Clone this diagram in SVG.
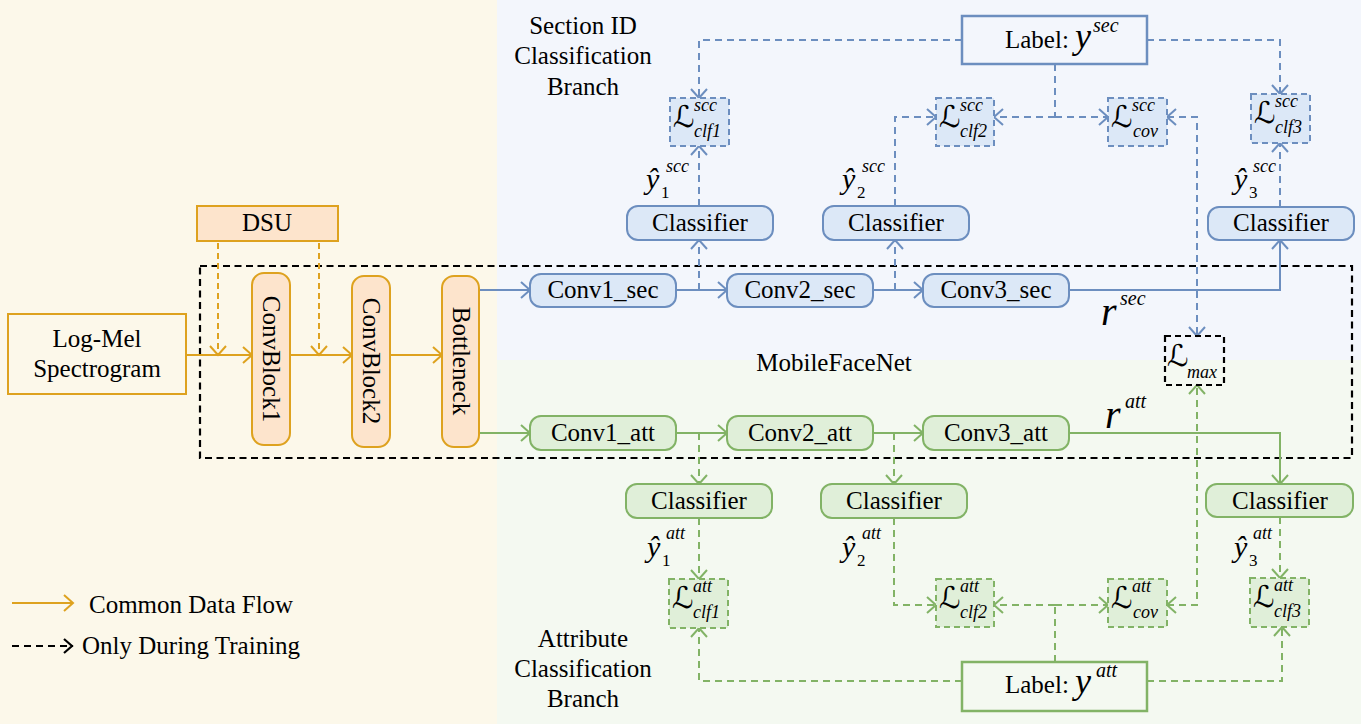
<svg xmlns="http://www.w3.org/2000/svg" width="1361" height="724" viewBox="0 0 1361 724">
<defs>
<style>
.t{font-family:"Liberation Serif","DejaVu Serif",serif;font-size:25px;fill:#000}
.c{text-anchor:middle}
.m{font-family:"Liberation Serif","DejaVu Serif",serif;font-style:italic;fill:#000}
.L{font-family:"DejaVu Serif","DejaVu Sans",serif;font-size:30px;fill:#000}
.s{font-size:18px}
.d{font-size:17px}
.ob{fill:#fde4cc;stroke:#dea21f;stroke-width:2}
.bb{fill:#dce8f7;stroke:#6c8ebf;stroke-width:2}
.gb{fill:#e0efd9;stroke:#82b366;stroke-width:2}
.bl{fill:#dce8f7;stroke:#6c8ebf;stroke-width:2;stroke-dasharray:6 4}
.gl{fill:#e0efd9;stroke:#82b366;stroke-width:2;stroke-dasharray:6 4}
.lab-b{fill:none;stroke:#6c8ebf;stroke-width:2.5}
.lab-g{fill:none;stroke:#82b366;stroke-width:2.5}
.ol{fill:none;stroke:#dea21f;stroke-width:2}
.od{fill:none;stroke:#dea21f;stroke-width:2;stroke-dasharray:6 4}
.bs{fill:none;stroke:#6c8ebf;stroke-width:2}
.bd{fill:none;stroke:#6c8ebf;stroke-width:2;stroke-dasharray:7 5}
.gs{fill:none;stroke:#82b366;stroke-width:2}
.gd{fill:none;stroke:#82b366;stroke-width:2;stroke-dasharray:7 5}
.kd{fill:none;stroke:#000;stroke-width:2.2;stroke-dasharray:7 4.5}
</style>
<marker id="ao" markerUnits="userSpaceOnUse" markerWidth="12" markerHeight="18" refX="10" refY="9" orient="auto-start-reverse"><path d="M1,1 L10,9 L1,17" fill="none" stroke="#dea21f" stroke-width="2"/></marker>
<marker id="ab" markerUnits="userSpaceOnUse" markerWidth="12" markerHeight="18" refX="10" refY="9" orient="auto-start-reverse"><path d="M1,1 L10,9 L1,17" fill="none" stroke="#6c8ebf" stroke-width="2"/></marker>
<marker id="ag" markerUnits="userSpaceOnUse" markerWidth="12" markerHeight="18" refX="10" refY="9" orient="auto-start-reverse"><path d="M1,1 L10,9 L1,17" fill="none" stroke="#82b366" stroke-width="2"/></marker>
<marker id="ak" markerUnits="userSpaceOnUse" markerWidth="12" markerHeight="18" refX="10" refY="9" orient="auto-start-reverse"><path d="M1,2 L9,9 L1,16" fill="none" stroke="#000" stroke-width="2.2"/></marker>
</defs>

<g id="background">
<rect x="0" y="0" width="1361" height="724" fill="#fcf8ea"/>
<rect x="497" y="0" width="864" height="360" fill="#f3f6fc"/>
<rect x="497" y="360" width="864" height="364" fill="#f4f9f1"/>
</g>

<g id="region-labels">
<text class="t c" x="583" y="34">Section ID</text>
<text class="t c" x="583" y="64">Classification</text>
<text class="t c" x="583" y="95">Branch</text>
<text class="t c" x="583" y="647">Attribute</text>
<text class="t c" x="583" y="677">Classification</text>
<text class="t c" x="583" y="707">Branch</text>
</g>

<g id="mobilefacenet">
<rect class="kd" x="200" y="266" width="1152" height="192"/>
<text class="t c" x="834" y="371">MobileFaceNet</text>
</g>

<g id="connectors">
<line class="ol" x1="186" y1="355" x2="252" y2="355" marker-end="url(#ao)"/>
<line class="ol" x1="290" y1="355" x2="352" y2="355" marker-end="url(#ao)"/>
<line class="ol" x1="390" y1="355" x2="442" y2="355" marker-end="url(#ao)"/>
<line class="od" x1="218" y1="243" x2="218" y2="355" marker-end="url(#ao)"/>
<line class="od" x1="319" y1="243" x2="319" y2="355" marker-end="url(#ao)"/>
<line class="bs" x1="479" y1="290" x2="530" y2="290" marker-end="url(#ab)"/>
<line class="bs" x1="676" y1="290" x2="727" y2="290" marker-end="url(#ab)"/>
<line class="bs" x1="873" y1="290" x2="923" y2="290" marker-end="url(#ab)"/>
<path class="bs" d="M1069,290 H1280 V240" marker-end="url(#ab)"/>
<line class="bd" x1="699" y1="290" x2="699" y2="240" marker-end="url(#ab)"/>
<line class="bd" x1="895" y1="290" x2="895" y2="240" marker-end="url(#ab)"/>
<line class="bd" x1="699" y1="206" x2="699" y2="146" marker-end="url(#ab)"/>
<path class="bd" d="M895,206 V117 H936" marker-end="url(#ab)"/>
<line class="bd" x1="1280" y1="207" x2="1280" y2="143" marker-end="url(#ab)"/>
<path class="bd" d="M962,40 H699 V98" marker-end="url(#ab)"/>
<path class="bd" d="M1147,40 H1280 V94" marker-end="url(#ab)"/>
<line class="bd" x1="1055" y1="64" x2="1055" y2="117"/>
<line class="bd" x1="1055" y1="117" x2="994" y2="117" marker-end="url(#ab)"/>
<line class="bd" x1="1055" y1="117" x2="1108" y2="117" marker-end="url(#ab)"/>
<path class="bd" d="M1167,117 H1197 V336" marker-start="url(#ab)" marker-end="url(#ab)"/>
<line class="gs" x1="479" y1="433" x2="530" y2="433" marker-end="url(#ag)"/>
<line class="gs" x1="676" y1="433" x2="727" y2="433" marker-end="url(#ag)"/>
<line class="gs" x1="873" y1="433" x2="923" y2="433" marker-end="url(#ag)"/>
<path class="gs" d="M1069,433 H1280 V484" marker-end="url(#ag)"/>
<line class="gd" x1="699" y1="433" x2="699" y2="484" marker-end="url(#ag)"/>
<line class="gd" x1="894" y1="433" x2="894" y2="484" marker-end="url(#ag)"/>
<line class="gd" x1="699" y1="518" x2="699" y2="579" marker-end="url(#ag)"/>
<path class="gd" d="M894,518 V605 H936" marker-end="url(#ag)"/>
<line class="gd" x1="1280" y1="517" x2="1280" y2="578" marker-end="url(#ag)"/>
<path class="gd" d="M962,681 H699 V628" marker-end="url(#ag)"/>
<path class="gd" d="M1147,681 H1282 V627" marker-end="url(#ag)"/>
<line class="gd" x1="1055" y1="662" x2="1055" y2="605"/>
<line class="gd" x1="1055" y1="605" x2="994" y2="605" marker-end="url(#ag)"/>
<line class="gd" x1="1055" y1="605" x2="1108" y2="605" marker-end="url(#ag)"/>
<path class="gd" d="M1167,605 H1197 V385" marker-start="url(#ag)" marker-end="url(#ag)"/>
</g>

<g id="logmel">
<rect class="ol" x="8" y="314" width="178" height="80"/>
<text class="t c" x="97" y="347">Log-Mel</text>
<text class="t c" x="97" y="377">Spectrogram</text>
</g>
<g id="dsu">
<rect class="ob" x="197" y="206" width="141" height="35"/>
<text class="t c" x="267" y="231">DSU</text>
</g>
<g id="convblock1">
<rect class="ob" x="252" y="273" width="38" height="172" rx="12"/>
<text class="t c" transform="translate(271,359) rotate(90)" x="0" y="8">ConvBlock1</text>
</g>
<g id="convblock2">
<rect class="ob" x="352" y="276" width="38" height="171" rx="12"/>
<text class="t c" transform="translate(371,361) rotate(90)" x="0" y="8">ConvBlock2</text>
</g>
<g id="bottleneck">
<rect class="ob" x="442" y="276" width="37" height="171" rx="12"/>
<text class="t c" transform="translate(460.5,361) rotate(90)" x="0" y="8">Bottleneck</text>
</g>

<g id="conv1_sec"><rect class="bb" x="530" y="274" width="146" height="33" rx="11"/><text class="t c" x="603" y="298">Conv1_sec</text></g>
<g id="conv2_sec"><rect class="bb" x="727" y="274" width="146" height="33" rx="11"/><text class="t c" x="800" y="298">Conv2_sec</text></g>
<g id="conv3_sec"><rect class="bb" x="923" y="274" width="146" height="33" rx="11"/><text class="t c" x="996" y="298">Conv3_sec</text></g>
<g id="conv1_att"><rect class="gb" x="530" y="416" width="146" height="34" rx="11"/><text class="t c" x="603" y="441">Conv1_att</text></g>
<g id="conv2_att"><rect class="gb" x="727" y="416" width="146" height="34" rx="11"/><text class="t c" x="800" y="441">Conv2_att</text></g>
<g id="conv3_att"><rect class="gb" x="923" y="416" width="146" height="34" rx="11"/><text class="t c" x="996" y="441">Conv3_att</text></g>

<g id="clf1_sec"><rect class="bb" x="627" y="206" width="146" height="34" rx="11"/><text class="t c" x="700" y="231">Classifier</text></g>
<g id="clf2_sec"><rect class="bb" x="823" y="206" width="146" height="34" rx="11"/><text class="t c" x="896" y="231">Classifier</text></g>
<g id="clf3_sec"><rect class="bb" x="1208" y="207" width="146" height="33" rx="11"/><text class="t c" x="1281" y="231">Classifier</text></g>
<g id="clf1_att"><rect class="gb" x="626" y="484" width="146" height="34" rx="11"/><text class="t c" x="699" y="509">Classifier</text></g>
<g id="clf2_att"><rect class="gb" x="821" y="484" width="146" height="34" rx="11"/><text class="t c" x="894" y="509">Classifier</text></g>
<g id="clf3_att"><rect class="gb" x="1206" y="484" width="147" height="33" rx="11"/><text class="t c" x="1280" y="509">Classifier</text></g>

<g id="label_sec">
<rect class="lab-b" x="962" y="16" width="185" height="48"/>
<text class="t" x="1005" y="48">Label:</text>
<text class="m" x="1075" y="48" font-size="36">y</text>
<text class="m" x="1093" y="32" font-size="20">sec</text>
</g>
<g id="label_att">
<rect class="lab-g" x="962" y="662" width="185" height="49"/>
<text class="t" x="1005" y="693">Label:</text>
<text class="m" x="1075" y="693" font-size="36">y</text>
<text class="m" x="1096" y="677" font-size="20">att</text>
</g>

<g id="L_clf1_sec"><rect class="bl" x="670" y="98" width="59" height="48"/><text class="L" x="673" y="127">ℒ</text><text class="m s" x="694" y="111">scc</text><text class="m s" x="694" y="137">clf1</text></g>
<g id="L_clf2_sec"><rect class="bl" x="936" y="98" width="58" height="48"/><text class="L" x="939" y="127">ℒ</text><text class="m s" x="960" y="111">scc</text><text class="m s" x="960" y="137">clf2</text></g>
<g id="L_cov_sec"><rect class="bl" x="1108" y="98" width="59" height="48"/><text class="L" x="1111" y="127">ℒ</text><text class="m s" x="1132" y="111">scc</text><text class="m s" x="1133" y="137">cov</text></g>
<g id="L_clf3_sec"><rect class="bl" x="1251" y="94" width="59" height="49"/><text class="L" x="1254" y="123">ℒ</text><text class="m s" x="1275" y="107">scc</text><text class="m s" x="1275" y="133">clf3</text></g>

<g id="L_clf1_att"><rect class="gl" x="669" y="579" width="59" height="49"/><text class="L" x="672" y="608">ℒ</text><text class="m s" x="693" y="592">att</text><text class="m s" x="693" y="618">clf1</text></g>
<g id="L_clf2_att"><rect class="gl" x="936" y="579" width="58" height="48"/><text class="L" x="939" y="608">ℒ</text><text class="m s" x="960" y="592">att</text><text class="m s" x="960" y="618">clf2</text></g>
<g id="L_cov_att"><rect class="gl" x="1108" y="579" width="59" height="48"/><text class="L" x="1111" y="608">ℒ</text><text class="m s" x="1132" y="592">att</text><text class="m s" x="1133" y="618">cov</text></g>
<g id="L_clf3_att"><rect class="gl" x="1250" y="578" width="59" height="49"/><text class="L" x="1253" y="607">ℒ</text><text class="m s" x="1274" y="591">att</text><text class="m s" x="1274" y="617">clf3</text></g>

<g id="L_max"><rect class="kd" x="1165" y="336" width="59" height="49" style="stroke-dasharray:6 4"/><text class="L" x="1167" y="366">ℒ</text><text class="m s" x="1187" y="378">max</text></g>

<g id="outputs">
<text class="m" x="646" y="189" font-size="30">ŷ</text><text class="m s" x="666" y="172">scc</text><text class="t d" x="661" y="198">1</text>
<text class="m" x="842" y="189" font-size="30">ŷ</text><text class="m s" x="862" y="172">scc</text><text class="t d" x="857" y="198">2</text>
<text class="m" x="1234" y="189" font-size="30">ŷ</text><text class="m s" x="1253" y="172">scc</text><text class="t d" x="1249" y="198">3</text>
<text class="m" x="647" y="557" font-size="30">ŷ</text><text class="m s" x="666" y="539">att</text><text class="t d" x="662" y="566">1</text>
<text class="m" x="842" y="557" font-size="30">ŷ</text><text class="m s" x="862" y="539">att</text><text class="t d" x="857" y="566">2</text>
<text class="m" x="1234" y="557" font-size="30">ŷ</text><text class="m s" x="1253" y="539">att</text><text class="t d" x="1249" y="566">3</text>
<text class="m" x="1101" y="325" font-size="40">r</text><text class="m" x="1120" y="305" font-size="20">sec</text>
<text class="m" x="1105" y="428" font-size="40">r</text><text class="m" x="1125" y="408" font-size="20">att</text>
</g>

<g id="legend">
<line class="ol" x1="12" y1="603" x2="73" y2="603" marker-end="url(#ao)"/>
<text class="t" x="89" y="613">Common Data Flow</text>
<line x1="12" y1="646" x2="73" y2="646" stroke="#000" stroke-width="2.2" stroke-dasharray="7 5" marker-end="url(#ak)"/>
<text class="t" x="82" y="654">Only During Training</text>
</g>
</svg>
